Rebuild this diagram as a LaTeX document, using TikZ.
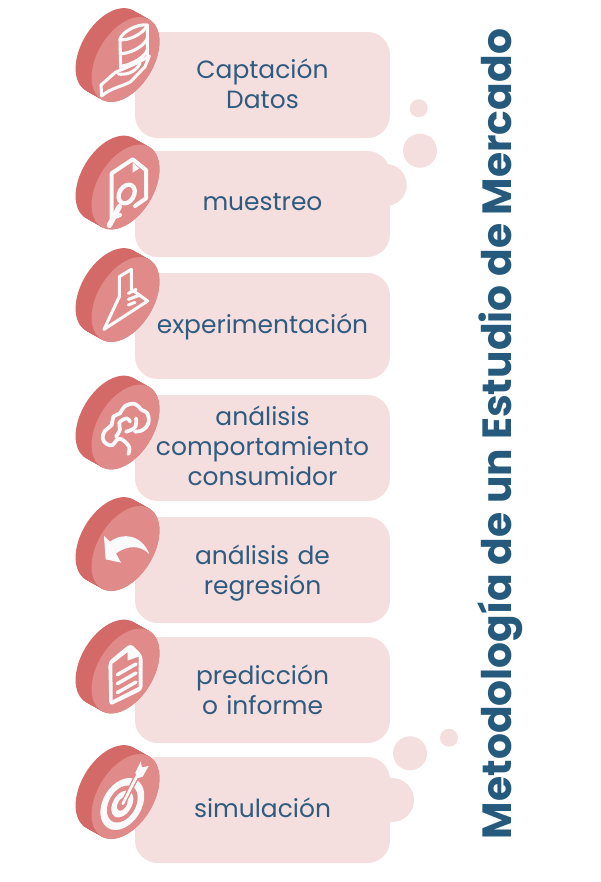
\documentclass[tikz,border=0pt]{standalone}
\usepackage{fontspec}
\setmainfont{Poppins}
\definecolor{boxpink}{HTML}{F5DEDE}
\definecolor{discdark}{HTML}{D46A68}
\definecolor{discface}{HTML}{E08A8A}
\definecolor{inkblue}{HTML}{2F5B7F}
\definecolor{titleblue}{HTML}{255A7D}
\definecolor{iconwhite}{HTML}{FAFAFA}
\newcommand{\disc}[1]{%
  \foreach \d in {0,1,...,16}
    \fill[discdark, shift={(125.5-\d,#1+51.5-0.56*\d)}, rotate=59] (0,0) ellipse (46.5 and 28);
  \fill[discface, shift={(125.5,#1+51.5)}, rotate=59] (0,0) ellipse (46.5 and 28);
}
\begin{document}
\begin{tikzpicture}[x=0.75pt, y=-0.75pt]

      \tikzstyle{step_box} = [rectangle, fill=boxpink, rounded corners=17pt, minimum width=191.25pt, minimum height=79.5pt, inner sep=0pt]
      \tikzstyle{step_text} = [inner sep=0pt, text centered, text width=190pt, align=center, text=inkblue, font=\fontsize{18.7}{22.5}\selectfont]
      \tikzstyle{bubble} = [circle, fill=boxpink, inner sep=0pt]
      \tikzstyle{icon_line} = [draw=iconwhite, line width=2.3pt, line cap=round, line join=round]
      \tikzstyle{icon_fill} = [fill=iconwhite]

      \useasboundingbox (0,0) rectangle (600,882);

      \path
        (385.7,185) node[bubble, minimum size=31.5pt] (b1){}
        (420,150.7) node[bubble, minimum size=25.5pt] (b2){}
        (418.7,108.3) node[bubble, minimum size=13.5pt] (b3){}
        (392,800) node[bubble, minimum size=33pt] (b4){}
        (410,753.3) node[bubble, minimum size=25.5pt] (b5){}
        (449,737.7) node[bubble, minimum size=13.5pt] (b6){};

      \path
        (262.5,85) node[step_box] (1){}
        (262.5,204) node[step_box] (2){}
        (262.5,326) node[step_box] (3){}
        (262.5,448) node[step_box] (4){}
        (262.5,570) node[step_box] (5){}
        (262.5,690) node[step_box] (6){}
        (262.5,810) node[step_box] (7){};

      \path
        (262.5,84) node[step_text] (t1){Captación\\Datos}
        (262.5,202) node[step_text] (t2){muestreo}
        (262.5,327) node[step_text] (t3){experimentación}
        (262.5,446) node[step_text] (t4){análisis\\comportamiento\\consumidor}
        (262.5,573) node[step_text] (t5){análisis de\\regresión}
        (262.5,690) node[step_text] (t6){predicción\\o informe}
        (262.5,808) node[step_text] (t7){simulación};

      \node[rotate=90, text=titleblue, font=\fontsize{30.6}{32}\selectfont\bfseries] (title) at (500,434) {Metodología de un Estudio de Mercado};

      \disc{8}
      \disc{135.5}
      \disc{248}
      \disc{375.5}
      \disc{497}
      \disc{619.5}
      \disc{745}

      % data in hand
      \begin{scope}[shift={(60,0)}, scale=1/3]
        \draw[icon_line] (180,118) .. controls (185,95) and (235,70) .. (262,75) -- (262,165);
        \draw[icon_line] (180,118) .. controls (195,125) and (250,105) .. (262,75);
        \draw[icon_line] (180,118) -- (182,205);
        \draw[icon_line] (180,160) .. controls (195,165) and (250,145) .. (262,115);
        \draw[icon_line] (181,198) .. controls (195,200) and (250,180) .. (262,150);
        \draw[icon_line] (125,288) -- (123,255) -- (165,218) .. controls (190,205) and (225,195) .. (268,168) -- (255,200) -- (212,245) .. controls (185,260) and (150,265) .. (125,288);
        \draw[icon_line] (175,222) .. controls (195,225) and (225,220) .. (240,190);
      \end{scope}

      % sample sheet
      \begin{scope}[shift={(60,0)}, scale=1/3]
        \draw[icon_line, line width=3pt] (180,645) -- (155,655) -- (155,520) -- (218,478) -- (258,510) -- (258,595) -- (225,618);
        \fill[icon_fill] (218,488) -- (238,505) -- (218,518) -- cycle;
        \draw[icon_line, line width=3.2pt, rotate around={59:(200,582)}] (200,582) ellipse (30 and 22);
        \draw[icon_line, line width=4pt] (178,620) -- (148,676);
      \end{scope}

      % flask
      \begin{scope}[shift={(60,240)}, scale=1/3]
        \draw[icon_line] (178,110) -- (214,88) -- (214,148) -- (263,183) -- (132,268) -- (178,170) -- cycle;
        \draw[icon_line] (205,160) -- (228,148);
        \draw[icon_line] (205,178) -- (240,165);
        \draw[icon_line] (205,195) -- (225,187);
      \end{scope}

      % brain
      \begin{scope}[shift={(60,240)}, scale=1/3]
        \draw[icon_line, line width=2.8pt] plot[smooth, tension=0.7] coordinates {(205,642) (207,620) (185,598) (170,600) (158,615) (140,612) (128,595) (135,572) (155,555) (160,530) (180,520) (195,498) (225,492) (245,510) (262,520) (265,550) (248,570) (225,575)};
        \draw[icon_line, line width=2.8pt] plot[smooth, tension=0.7] coordinates {(168,590) (180,568) (178,548) (200,535) (210,545)};
        \draw[icon_line, line width=2.8pt] plot[smooth, tension=0.7] coordinates {(198,575) (225,562) (228,535)};
      \end{scope}

      % back arrow
      \begin{scope}[shift={(60,490)}, scale=1/3]
        \fill[icon_fill] (132,138) -- (150,155) .. controls (190,125) and (245,135) .. (268,192) .. controls (240,165) and (205,165) .. (168,190) -- (183,218) -- (137,208) -- cycle;
      \end{scope}

      % report
      \begin{scope}[shift={(60,490)}, scale=1/3]
        \fill[icon_fill, rounded corners=3pt] (145,515) -- (212,460) -- (248,497) -- (248,600) -- (148,648) -- cycle;
        \fill[discface] (157,522) -- (203,487) -- (203,512) -- (236,500) -- (236,590) -- (158,630) -- cycle;
        \draw[icon_line, line width=2.6pt] (172,554) -- (228,522);
        \draw[icon_line, line width=2.6pt] (172,581) -- (228,549);
        \draw[icon_line, line width=2.6pt] (172,608) -- (228,576);
      \end{scope}

      % target
      \begin{scope}[shift={(60,730)}, scale=1/3]
        \fill[icon_fill, rotate around={59:(187,222)}] (187,222) ellipse (84 and 58);
        \fill[discface, rotate around={59:(187,222)}] (187,222) ellipse (60 and 40);
        \fill[icon_fill, rotate around={59:(187,222)}] (187,222) ellipse (44 and 28);
        \fill[discface, rotate around={59:(187,222)}] (187,222) ellipse (22 and 13);
        \draw[icon_line, discface, line width=4pt, line cap=butt] (188,222) -- (232,136);
        \draw[icon_line, line width=2pt] (188,222) -- (232,136);
        \fill[icon_fill] (226,128) -- (242,95) -- (246,112) -- (266,108) -- (248,140) -- (232,145) -- cycle;
      \end{scope}
    \end{tikzpicture}
\end{document}
